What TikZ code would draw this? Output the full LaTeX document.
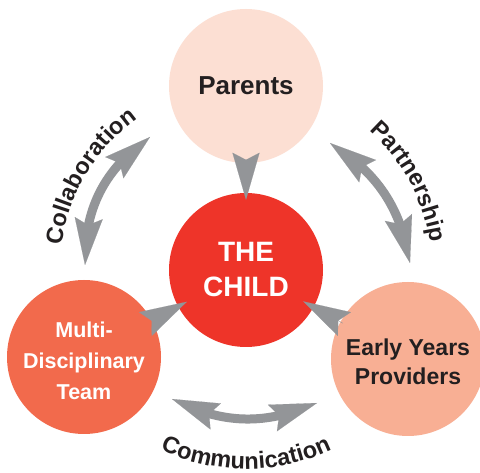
\documentclass[tikz,border=0pt]{standalone}
\usepackage{fontspec}
\setmainfont{Liberation Sans}
\usetikzlibrary{arrows.meta,bending,decorations.text}
\definecolor{parentsfill}{HTML}{FCDFD3}
\definecolor{childfill}{HTML}{EE3429}
\definecolor{mdtfill}{HTML}{F26A4C}
\definecolor{eyfill}{HTML}{F8AF94}
\definecolor{arrowgray}{HTML}{939598}
\definecolor{textdark}{HTML}{231F20}
\newcommand\lblfont{\fontsize{23.5}{23.5}\selectfont\bfseries}
\begin{document}
\begin{tikzpicture}[x=1pt,y=1pt,
  bubble/.style={circle, minimum size=154pt, inner sep=0pt, align=center},
  wedge/.style={draw=arrowgray, line width=0.4pt,
    -{Stealth[length=47pt,width=27pt,inset=7pt,line width=0.1pt]}},
  dblarrow/.style={draw=arrowgray, line width=9pt,
    {Stealth[length=47pt,width=28pt,inset=7pt,line width=0.1pt]}-{Stealth[length=47pt,width=28pt,inset=7pt,line width=0.1pt]}},
  lbl/.style={decorate, decoration={text along path, text align=center, text color=textdark}},
]
\useasboundingbox (0,0) rectangle (480,-473);
\fill[white] (0,0) rectangle (480,-473);

\node[bubble, fill=parentsfill, text=textdark,
  font=\fontsize{26}{30}\selectfont\bfseries] (parents) at (246,-86) {Parents};
\node[bubble, fill=childfill, text=white,
  font=\fontsize{28}{35}\selectfont\bfseries] (child) at (246,-270) {THE\\CHILD};
\node[bubble, fill=mdtfill] (mdt) at (84,-357) {};
\node[text=white, align=center, font=\fontsize{21.5}{31}\selectfont\bfseries]
  (mdttext) at ([yshift=-4pt]mdt.center) {Multi-\\Disciplinary\\Team};
\node[bubble, fill=eyfill] (ey) at (408,-359) {};
\node[text=textdark, align=center, font=\fontsize{23}{29}\selectfont\bfseries]
  (eytext) at ([yshift=-3pt]ey.center) {Early Years\\Providers};

% wedges pointing into the child
\draw[wedge, shorten <=-10pt, shorten >=-7pt] (parents) -- (child);
\draw[wedge, shorten <=-7pt, shorten >=-10pt] (mdt) -- (child);
\draw[wedge, shorten <=-3pt, shorten >=-12pt] (ey) -- (child);

% double arrows
\coordinate (colA) at (85,-265);
\coordinate (colB) at (150,-137);
\draw[dblarrow] (colA) to[bend left=28] (colB);
\coordinate (parA) at (330,-143);
\coordinate (parB) at (410,-263);
\draw[dblarrow] (parA) to[bend left=24] (parB);
\coordinate (comA) at (172,-399);
\coordinate (comB) at (317,-403);
\draw[dblarrow] (comA) to[bend right=25] (comB);

% labels
\path[lbl, decoration={text={|\lblfont|Collaboration}}]
  ([shift={(194:186)}]child.center) arc[start angle=194, end angle=104, radius=186];
\path[lbl, decoration={text={|\lblfont|Partnership}}]
  ([shift={(73.5:186)}]child.center) arc[start angle=73.5, end angle=-16.5, radius=186];
\path[lbl, decoration={text={|\lblfont|Communication}}]
  ([shift={(225:199)}]child.center) arc[start angle=225, end angle=315, radius=199];
\end{tikzpicture}
\end{document}
